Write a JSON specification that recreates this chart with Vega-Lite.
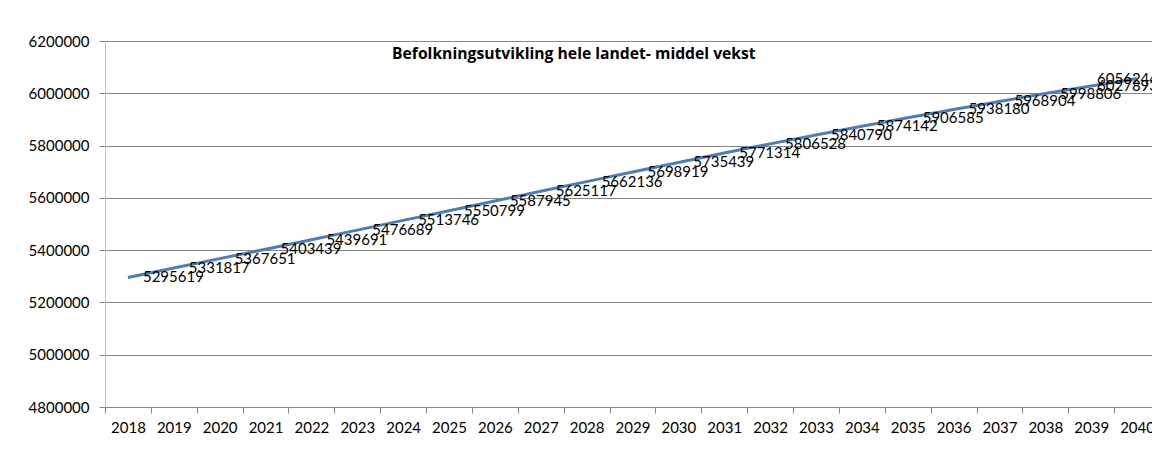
{
  "$schema": "https://vega.github.io/schema/vega-lite/v6.json",
  "autosize": {"type": "none"},
  "width": 1047,
  "height": 366,
  "padding": {"left": 105, "top": 41, "right": 0, "bottom": 60},
  "background": "white",
  "config": {"view": {"stroke": null}, "font": "Lato"},
  "title": {
    "text": "Befolkningsutvikling hele landet- middel vekst",
    "anchor": "start",
    "frame": "group",
    "orient": "top",
    "dx": 287,
    "offset": 0,
    "dy": 36,
    "baseline": "middle",
    "font": "Open Sans",
    "fontSize": 15.7,
    "fontWeight": "bold",
    "color": "#000000"
  },
  "data": {
    "values": [
      {"year": "2018", "value": 5295619},
      {"year": "2019", "value": 5331817},
      {"year": "2020", "value": 5367651},
      {"year": "2021", "value": 5403439},
      {"year": "2022", "value": 5439691},
      {"year": "2023", "value": 5476689},
      {"year": "2024", "value": 5513746},
      {"year": "2025", "value": 5550799},
      {"year": "2026", "value": 5587945},
      {"year": "2027", "value": 5625117},
      {"year": "2028", "value": 5662136},
      {"year": "2029", "value": 5698919},
      {"year": "2030", "value": 5735439},
      {"year": "2031", "value": 5771314},
      {"year": "2032", "value": 5806528},
      {"year": "2033", "value": 5840790},
      {"year": "2034", "value": 5874142},
      {"year": "2035", "value": 5906585},
      {"year": "2036", "value": 5938180},
      {"year": "2037", "value": 5968904},
      {"year": "2038", "value": 5998806},
      {"year": "2039", "value": 6027893},
      {"year": "2040", "value": 6056244}
    ]
  },
  "encoding": {
    "x": {
      "field": "year",
      "type": "ordinal",
      "bandPosition": 0.5,
      "scale": {"type": "band", "range": [0, 1055], "paddingInner": 0, "paddingOuter": 0},
      "axis": {
        "title": null,
        "labelAngle": 0,
        "grid": false,
        "tickBand": "extent",
        "domainColor": "#868686",
        "tickColor": "#868686",
        "tickSize": 6,
        "labelPadding": 7,
        "labelFont": "Lato",
        "labelFontSize": 15,
        "labelColor": "#000000"
      }
    },
    "y": {
      "field": "value",
      "type": "quantitative",
      "scale": {"domain": [4800000, 6200000], "nice": false, "zero": false},
      "axis": {
        "title": null,
        "values": [4800000, 5000000, 5200000, 5400000, 5600000, 5800000, 6000000, 6200000],
        "format": "d",
        "grid": true,
        "gridColor": "#868686",
        "domainColor": "#BFBFBF",
        "tickColor": "#868686",
        "tickSize": 6,
        "labelPadding": 10,
        "labelFont": "Lato",
        "labelFontSize": 15,
        "labelColor": "#000000"
      }
    }
  },
  "layer": [
    {
      "mark": {"type": "line", "color": "#4A7EBB", "strokeWidth": 3}
    },
    {
      "transform": [{"filter": "datum.year < '2039'"}],
      "mark": {"type": "text", "align": "left", "baseline": "middle", "dx": 15, "font": "Lato", "fontSize": 15, "color": "#000000"},
      "encoding": {"text": {"field": "value", "type": "quantitative", "format": "d"}}
    },
    {
      "transform": [{"filter": "datum.year >= '2039'"}],
      "mark": {"type": "text", "align": "right", "baseline": "middle", "dx": -2, "font": "Lato", "fontSize": 15, "color": "#000000"},
      "encoding": {
        "x": {"datum": "2040", "type": "ordinal", "bandPosition": 1},
        "text": {"field": "value", "type": "quantitative", "format": "d"}
      }
    }
  ]
}
